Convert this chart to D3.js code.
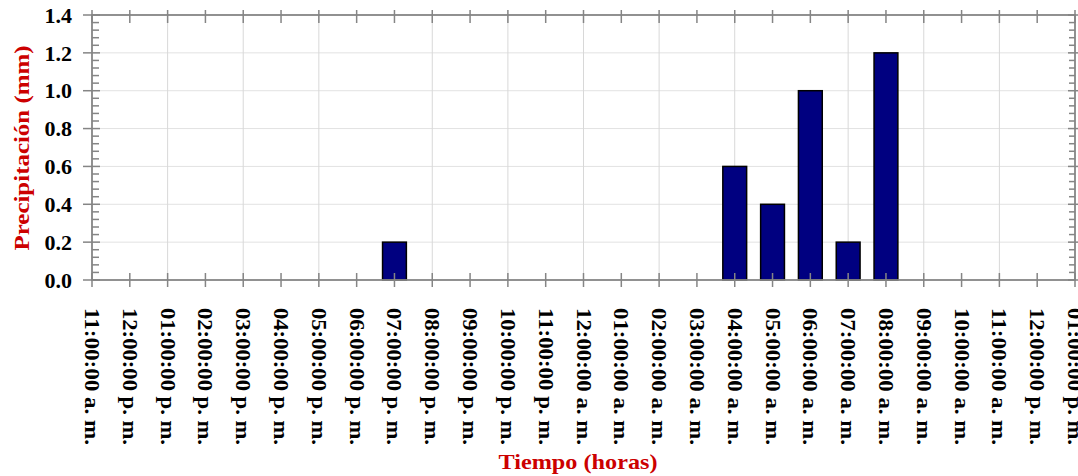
<!DOCTYPE html>
<html>
<head>
<meta charset="utf-8">
<script src="https://cdn.jsdelivr.net/npm/d3@7"></script>
<style>
  body { margin: 0; background: #fff; }
  svg text { font-family: "Liberation Serif", "Times New Roman", serif; font-weight: bold; }
</style>
</head>
<body>
<svg id="chart" width="1078" height="476"></svg>
<script>
// Data
var hours = [
  '11:00:00 a. m.', '12:00:00 p. m.', '01:00:00 p. m.', '02:00:00 p. m.', '03:00:00 p. m.',
  '04:00:00 p. m.', '05:00:00 p. m.', '06:00:00 p. m.', '07:00:00 p. m.', '08:00:00 p. m.',
  '09:00:00 p. m.', '10:00:00 p. m.', '11:00:00 p. m.', '12:00:00 a. m.', '01:00:00 a. m.',
  '02:00:00 a. m.', '03:00:00 a. m.', '04:00:00 a. m.', '05:00:00 a. m.', '06:00:00 a. m.',
  '07:00:00 a. m.', '08:00:00 a. m.', '09:00:00 a. m.', '10:00:00 a. m.', '11:00:00 a. m. ',
  '12:00:00 p. m. ', '01:00:00 p. m. '
];
var precip = [
  0, 0, 0, 0, 0, 0, 0, 0, 0.2, 0, 0, 0, 0, 0, 0, 0, 0,
  0.6, 0.4, 1.0, 0.2, 1.2, 0, 0, 0, 0, 0
];
var yTicks = [0, 0.2, 0.4, 0.6, 0.8, 1.0, 1.2, 1.4];
// vertical grid lines sit on these hours (uneven in the original)
var gridHours = [2, 4, 6, 9, 11, 13, 15, 17, 20, 22, 24];

var svg = d3.select('#chart'),
    m = { left: 92, right: 1075, top: 15, bottom: 280 },
    axisColor = '#858585',
    red = '#cc0000';

var x = d3.scalePoint().domain(hours).range([m.left, m.right]).padding(0);
var y = d3.scaleLinear().domain([0, 1.4]).range([m.bottom, m.top]);
var barW = x.step() * 0.63;

// grid
svg.append('g').selectAll('line.h')
  .data(yTicks.filter(function(d) { return d > 0 && d < 1.4; }))
  .enter().append('line')
  .attr('x1', m.left).attr('x2', m.right)
  .attr('y1', function(d) { return y(d); }).attr('y2', function(d) { return y(d); })
  .attr('stroke', '#e2e2e2').attr('stroke-width', 1);
svg.append('g').selectAll('line.v')
  .data(gridHours)
  .enter().append('line')
  .attr('x1', function(i) { return x(hours[i]); }).attr('x2', function(i) { return x(hours[i]); })
  .attr('y1', m.top).attr('y2', m.bottom)
  .attr('stroke', '#d8d8d8').attr('stroke-width', 1);

// bars
svg.append('g').selectAll('rect')
  .data(hours.map(function(h, i) { return { h: h, v: precip[i] }; }).filter(function(d) { return d.v > 0; }))
  .enter().append('rect')
  .attr('x', function(d) { return x(d.h) - barW / 2; })
  .attr('y', function(d) { return y(d.v); })
  .attr('width', barW)
  .attr('height', function(d) { return y(0) - y(d.v); })
  .attr('fill', '#000080')
  .attr('stroke', '#000').attr('stroke-width', 1.5);

// axes
var minor = d3.range(0, 1.4001, 0.04).filter(function(d) {
  return Math.abs(d / 0.2 - Math.round(d / 0.2)) > 0.01;
});

function tickLines(g, data, f) {
  g.selectAll(null).data(data).enter().append('line')
    .each(function(d) { d3.select(this).attr('x1', f(d)[0]).attr('y1', f(d)[1]).attr('x2', f(d)[2]).attr('y2', f(d)[3]); })
    .attr('stroke', axisColor).attr('stroke-width', 1.5);
}

var ax = svg.append('g');
// frame
ax.append('rect')
  .attr('x', m.left).attr('y', m.top)
  .attr('width', m.right - m.left).attr('height', m.bottom - m.top)
  .attr('fill', 'none').attr('stroke', axisColor).attr('stroke-width', 1.8);

// left + right
tickLines(ax, yTicks, function(d) { return [m.left - 9, y(d), m.left + 8, y(d)]; });
tickLines(ax, minor, function(d) { return [m.left, y(d), m.left + 7, y(d)]; });
tickLines(ax, yTicks, function(d) { return [m.right - 7, y(d), m.right + 6, y(d)]; });
tickLines(ax, minor, function(d) { return [m.right - 6, y(d), m.right, y(d)]; });
// top + bottom
tickLines(ax, hours, function(d) { return [x(d), m.top - 5, x(d), m.top + 8]; });
tickLines(ax, hours, function(d) { return [x(d), m.bottom - 7, x(d), m.bottom + 7]; });

// y labels
svg.append('g').selectAll('text')
  .data(yTicks)
  .enter().append('text')
  .attr('x', 72).attr('y', function(d) { return y(d); })
  .attr('dy', '0.35em')
  .attr('text-anchor', 'end')
  .style('font-size', '22px')
  .attr('fill', '#000')
  .text(function(d) { return d3.format('.1f')(d); });

// x labels, rotated
svg.append('g').selectAll('text')
  .data(hours)
  .enter().append('text')
  .attr('transform', function(d) { return 'translate(' + x(d) + ',308) rotate(90)'; })
  .attr('dy', '0.35em')
  .attr('textLength', 137)
  .attr('lengthAdjust', 'spacingAndGlyphs')
  .style('font-size', '20px')
  .attr('fill', '#000')
  .text(function(d) { return d.trim(); });

// titles
svg.append('text')
  .attr('x', 578).attr('y', 469)
  .attr('text-anchor', 'middle')
  .attr('textLength', 159)
  .attr('lengthAdjust', 'spacingAndGlyphs')
  .style('font-size', '22px')
  .attr('fill', red)
  .text('Tiempo (horas)');

svg.append('text')
  .attr('transform', 'translate(29,148) rotate(-90)')
  .attr('text-anchor', 'middle')
  .attr('textLength', 205)
  .attr('lengthAdjust', 'spacingAndGlyphs')
  .style('font-size', '22px')
  .attr('fill', red)
  .text('Precipitación (mm)');
</script>
</body>
</html>
